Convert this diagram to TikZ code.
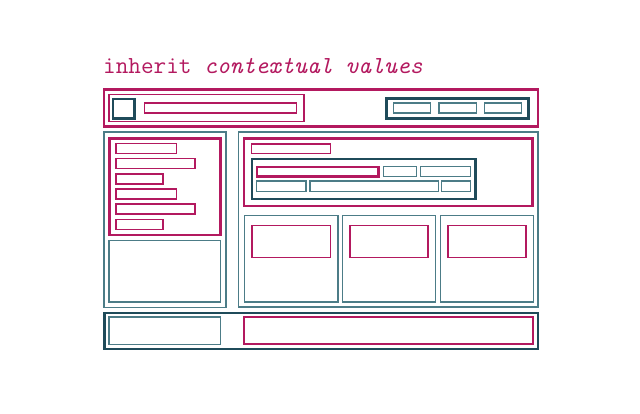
\documentclass[tikz,border=0pt]{standalone}
\begin{document}
\begin{tikzpicture}[x=1pt,y=-1pt,
  pk/.style={draw=pinkc,line width=2.3pt},
  pkm/.style={draw=pinkc,line width=1.8pt},
  pks/.style={draw=pinkc,line width=1.3pt},
  dk/.style={draw=darkc,line width=2.3pt},
  tl/.style={draw=tealc,line width=1.3pt}]
\definecolor{pinkc}{HTML}{B3195F}
\definecolor{darkc}{HTML}{1F4B5A}
\definecolor{tealc}{HTML}{4C7C87}
\useasboundingbox (0,0) rectangle (640,414);
% title
\node[anchor=base west,inner sep=0pt,text=pinkc,font=\fontsize{24.5}{28}\selectfont\ttfamily] (title) at (103,73.7) {inherit \textit{contextual values}};
% header
\draw[pk] (104,89.5) rectangle (538,126.5);
\draw[pks] (109,94.5) rectangle (304,121.5);
\draw[dk] (113,99) rectangle (134.5,118.5);
\draw[pks] (144.5,103) rectangle (296.5,113);
\draw[dk] (386.5,98.5) rectangle (528.5,118.5);
\draw[tl] (393.5,103) rectangle (430.5,113);
\draw[tl] (439,103) rectangle (476.5,113);
\draw[tl] (484.5,103) rectangle (521.5,113);
% left panel
\draw[tl] (104,132) rectangle (226,307.5);
\draw[pk] (109.5,138.5) rectangle (220.5,235);
\draw[pks] (116,143.5) rectangle (176.5,153.5);
\draw[pks] (116,158.5) rectangle (195,168.5);
\draw[pks] (116,174) rectangle (163,184);
\draw[pks] (116,189) rectangle (176.5,199);
\draw[pks] (116,204) rectangle (195,214);
\draw[pks] (116,219.5) rectangle (163,229.5);
\draw[tl] (109,240.5) rectangle (220.5,302);
% right panel
\draw[tl] (238.5,132) rectangle (538,307);
\draw[pk] (244,138.5) rectangle (532.5,206);
\draw[pks] (251.7,144) rectangle (330.5,153.5);
\draw[dk] (251.7,159) rectangle (475.5,199);
\draw[pk] (257,167) rectangle (378.5,176.5);
\draw[tl] (383.7,166.7) rectangle (416.3,176.7);
\draw[tl] (420.7,166.7) rectangle (470.3,176.7);
\draw[tl] (256.3,181) rectangle (306,191.3);
\draw[tl] (310,181) rectangle (438.3,191.3);
\draw[tl] (441.7,181) rectangle (470.3,191.3);
% cards
\draw[tl] (244.3,215.5) rectangle (338,302);
\draw[tl] (342.3,215.5) rectangle (435.3,302);
\draw[tl] (440.3,215.5) rectangle (533.3,302);
\draw[pkm] (252,225.5) rectangle (330.5,257.5);
\draw[pkm] (350,225.5) rectangle (428.3,257.5);
\draw[pkm] (447.7,225.5) rectangle (525.7,257.5);
% footer
\draw[dk] (104.5,312.7) rectangle (538,349.3);
\draw[tl] (109,317) rectangle (220.3,344.3);
\draw[pkm] (243.7,317.3) rectangle (532.7,344.3);
\end{tikzpicture}
\end{document}
